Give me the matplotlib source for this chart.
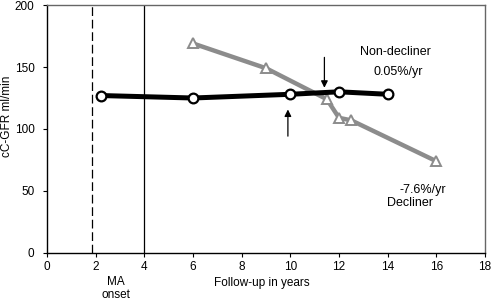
import matplotlib.pyplot as plt

plt.rcParams['font.family'] = ['Liberation Sans', 'DejaVu Sans']

# Non-decliner (black, circles)
non_x = [2.2, 6, 10, 12, 14]
non_y = [127, 125, 128, 130, 128]

# Decliner (grey, triangles)
dec_x = [6, 9, 11.5, 12, 12.5, 16]
dec_y = [169, 149, 124, 109, 107, 74]

grey = "#8c8c8c"

fig = plt.figure(figsize=(4.92, 3.02), dpi=100)
ax = fig.add_axes([0.0955, 0.1623, 0.8903, 0.8211])

ax.axvline(1.87, color="black", lw=0.9, ls=(0, (7, 3)))
ax.axvline(3.97, color="black", lw=0.9)

ax.plot(dec_x, dec_y, color=grey, lw=3.2, marker="^", ms=7,
        mfc="white", mec=grey, mew=1.4, zorder=3)
ax.plot(non_x, non_y, color="black", lw=3.6, marker="o", ms=7,
        mfc="white", mec="black", mew=1.6, zorder=4)

# arrows marking decline onset
ax.annotate("", xy=(11.4, 131), xytext=(11.4, 160),
            arrowprops=dict(arrowstyle="-|>", color="black", lw=0.9, mutation_scale=10))
ax.annotate("", xy=(9.9, 118), xytext=(9.9, 92),
            arrowprops=dict(arrowstyle="-|>", color="black", lw=0.9, mutation_scale=10))

ax.text(14.3, 162, "Non-decliner", ha="center", va="center", fontsize=9)
ax.text(14.45, 146, "0.05%/yr", ha="center", va="center", fontsize=9)
ax.text(15.45, 51, "-7.6%/yr", ha="center", va="center", fontsize=9)
ax.text(14.9, 40, "Decliner", ha="center", va="center", fontsize=9)

ax.text(2.82, -23, "MA", ha="center", va="center", fontsize=8.5, clip_on=False)
ax.text(2.82, -34, "onset", ha="center", va="center", fontsize=8.5, clip_on=False)

ax.set_xlim(0, 18)
ax.set_ylim(0, 200)
ax.set_xticks(range(0, 19, 2))
ax.set_yticks(range(0, 201, 50))
ax.tick_params(direction="out", length=3, width=0.8, labelsize=8.5)
ax.tick_params(axis="x", pad=3)
ax.tick_params(axis="y", pad=6)
ax.set_xlabel("Follow-up in years", fontsize=8.5, va="center")
ax.set_ylabel("cC-GFR ml/min", fontsize=8.5, va="center")
ax.xaxis.set_label_coords(0.491, -0.121)
ax.yaxis.set_label_coords(-0.091, 0.552)

for s in ["top", "right"]:
    ax.spines[s].set_color("#666666")
    ax.spines[s].set_linewidth(1.0)
for s in ["left", "bottom"]:
    ax.spines[s].set_linewidth(1.0)

fig.savefig("out.png", dpi=100)
